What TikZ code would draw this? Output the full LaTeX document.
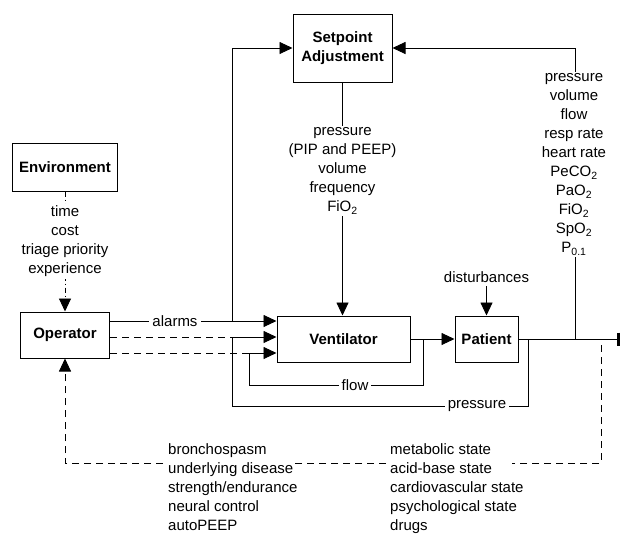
\documentclass[tikz,border=0pt]{standalone}
\usepackage{fontspec}
\setmainfont{Liberation Sans}
\usetikzlibrary{arrows.meta}
\begin{document}
\begin{tikzpicture}[x=1pt,y=-1pt,
  font=\fontsize{15}{19}\selectfont,
  box/.style={draw, line width=1pt, font=\fontsize{15}{19}\selectfont\bfseries, align=center, inner sep=0pt},
  conn/.style={line width=0.9pt},
  arr/.style={-{Triangle[length=13pt,width=12pt]}},
  dsh/.style={conn, dash pattern=on 7pt off 5pt},
  ddot/.style={conn, dash pattern=on 5pt off 3pt on 1pt off 3pt},
  lbl/.style={fill=white, inner xsep=3pt, inner ysep=2pt, align=center},
  col/.style={align=left, anchor=north west, inner sep=0pt}]
\useasboundingbox (0,0) rectangle (622,536);

% boxes
\node[box, minimum width=105pt, minimum height=48pt] (env) at (65,167) {Environment};
\node[box, minimum width=89pt, minimum height=46pt] (op) at (65,335) {Operator};
\node[box, minimum width=99pt, minimum height=68pt] (sp) at (342.5,48) {Setpoint\\Adjustment};
\node[box, minimum width=133pt, minimum height=46pt] (vent) at (343.5,339) {Ventilator};
\node[box, minimum width=63pt, minimum height=46pt] (pat) at (486.5,339) {Patient};
\node (dist) at (486.5,277) {disturbances};

% junctions
\coordinate (jA) at (232,321);
\coordinate (jP) at (232,337);
\coordinate (jF) at (249,353);
\coordinate (vo) at (423,339);
\coordinate (po) at (528,339);
\coordinate (pb) at (232,406);
\coordinate (pm) at (575,339);
\coordinate (pend) at (620,339);
\coordinate (fbR) at (601,345);
\coordinate (b3) at (512,463);
\coordinate (b2r) at (386,463);
\coordinate (b2l) at (293,463);
\coordinate (b1) at (163,463);

% connectors
\draw[ddot,arr] (env.south) -- (op.north);
\draw[conn,arr] (op.east |- jA) -- (vent.west |- jA);
\draw[conn,arr] (jA) |- (sp.west);
\draw[dsh] (op.east |- jP) -- (jP);
\draw[dsh] (op.east |- jF) -- (jF);
\draw[conn,arr] (po) |- (pb) -- (jP) -- (vent.west |- jP);
\draw[conn,arr] (vo) -- ++(0,46) -| (jF) -- (vent.west |- jF);
\draw[conn,arr] (sp.south) -- (sp.south |- vent.north);
\draw[conn,arr] (vent.east) -- (pat.west);
\draw[conn,arr] (dist.south) -- (pat.north);
\draw[conn,-{Bar[width=13pt,line width=3pt]}] (pat.east) -- (pend);
\draw[conn,arr] (pm) -- (pm |- sp.east) -- (sp.east);
\draw[dsh] (fbR) |- (b3);
\draw[dsh] (b2r) -- (b2l);
\draw[dsh,arr] (b1) -| (op.south);

% labels
\node[lbl] at (175,321) {alarms};
\node[lbl, inner ysep=1pt] at (355,385) {flow};
\node[lbl] at (477,406) {pressure};
\node[lbl] at (65,241.5) {time\\cost\\triage priority\\experience};
\node[lbl] at (342.5,171) {pressure\\(PIP and PEEP)\\volume\\frequency\\FiO\textsubscript{2}};
\node[lbl] at (574,164.5) {pressure\\volume\\flow\\resp rate\\heart rate\\PeCO\textsubscript{2}\\PaO\textsubscript{2}\\FiO\textsubscript{2}\\SpO\textsubscript{2}\\P\textsubscript{0.1}};
\node[col] at (168,443) {bronchospasm\\underlying disease\\strength/endurance\\neural control\\autoPEEP};
\node[col] at (390,443) {metabolic state\\acid-base state\\cardiovascular state\\psychological state\\drugs};
\end{tikzpicture}
\end{document}
